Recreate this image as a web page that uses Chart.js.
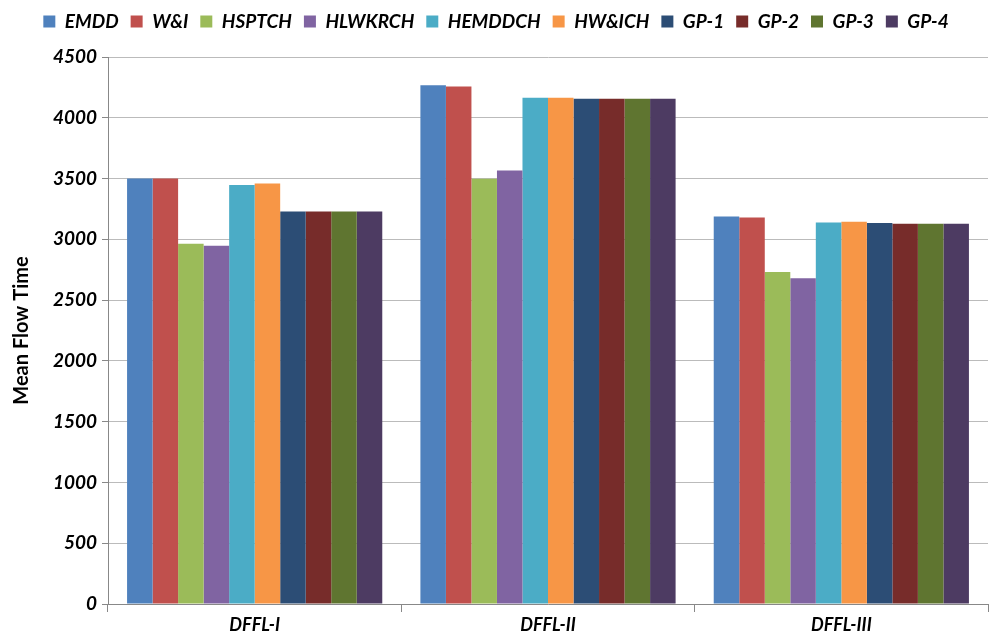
<!DOCTYPE html>
<html>
<head>
<meta charset="utf-8">
<script src="https://cdn.jsdelivr.net/npm/chart.js@4/dist/chart.umd.min.js"></script>
<style>
  html, body { margin: 0; padding: 0; background: #fff; }
  #wrap { width: 990px; height: 638px; }
</style>
</head>
<body>
<div id="wrap"><canvas id="myChart"></canvas></div>
<script>
var categories = ['DFFL-I', 'DFFL-II', 'DFFL-III'];
var seriesNames = ['EMDD', 'W&I', 'HSPTCH', 'HLWKRCH', 'HEMDDCH', 'HW&ICH', 'GP-1', 'GP-2', 'GP-3', 'GP-4'];
var emdd    = [3500, 4267, 3188];
var wi      = [3500, 4258, 3180];
var hsptch  = [2964, 3498, 2731];
var hlwkrch = [2947, 3566, 2679];
var hemddch = [3448, 4165, 3139];
var hwich   = [3459, 4165, 3145];
var gp1     = [3229, 4157, 3134];
var gp2     = [3229, 4157, 3128];
var gp3     = [3229, 4157, 3128];
var gp4     = [3229, 4157, 3128];
var colors = ['#4F81BD', '#C0504D', '#9BBB59', '#8064A2', '#4BACC6',
              '#F79646', '#2C4D75', '#772C2A', '#5F7530', '#4D3B62'];

var allValues = [emdd, wi, hsptch, hlwkrch, hemddch, hwich, gp1, gp2, gp3, gp4];
var datasets = seriesNames.map(function (name, i) {
    return {
        label: name,
        data: allValues[i],
        backgroundColor: colors[i],
        borderWidth: 0,
        categoryPercentage: 0.87,
        barPercentage: 1.0
    };
});

var font = 'Lato, "Liberation Sans", sans-serif';

// give the legend a fixed height so the plot starts lower
var legendHeight = {
    id: 'legendHeight',
    beforeInit: function (chart) {
        var fit = chart.legend.fit;
        chart.legend.fit = function () {
            fit.bind(chart.legend)();
            this.height = 57;
        };
    }
};

var ctx = document.getElementById('myChart').getContext('2d');
var myChart = new Chart(ctx, {
    type: 'bar',
    data: {
        labels: categories,
        datasets: datasets
    },
    plugins: [legendHeight],
    options: {
        responsive: true,
        maintainAspectRatio: false,
        animation: false,
        layout: { padding: { left: 4, right: 2, top: 0, bottom: 0 } },
        plugins: {
            tooltip: { enabled: false },
            legend: {
                position: 'top',
                labels: {
                    boxWidth: 12,
                    boxHeight: 12,
                    padding: 12,
                    color: '#000',
                    font: { family: font, size: 19, weight: 'bold', style: 'italic' }
                }
            }
        },
        scales: {
            x: {
                afterFit: function (scale) { scale.height = 34; },
                grid: {
                    offset: true,
                    drawOnChartArea: false,
                    drawTicks: true,
                    tickLength: 8,
                    color: '#888'
                },
                border: { color: '#888' },
                ticks: {
                    color: '#000',
                    padding: 2,
                    font: { family: font, size: 18, weight: 'bold', style: 'italic' }
                }
            },
            y: {
                min: 0,
                max: 4500,
                afterFit: function (scale) { scale.width = 104; },
                ticks: {
                    stepSize: 500,
                    color: '#000',
                    padding: 5,
                    callback: function (v) { return v; },
                    font: { family: font, size: 19, weight: 'bold', style: 'italic' }
                },
                grid: {
                    color: '#bbbbbb',
                    tickLength: 6,
                    tickColor: '#888'
                },
                border: { color: '#888' },
                title: {
                    display: true,
                    text: 'Mean Flow Time',
                    color: '#000',
                    padding: 6,
                    font: { family: font, size: 20, weight: 'bold' }
                }
            }
        }
    }
});
</script>
</body>
</html>
